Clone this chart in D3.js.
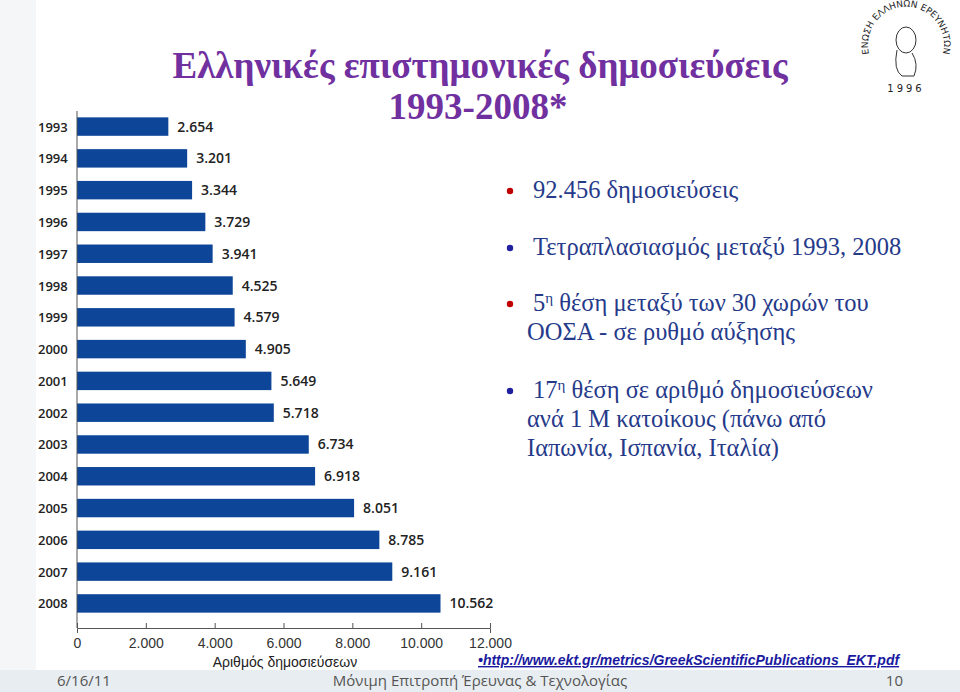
<!DOCTYPE html>
<html><head><meta charset="utf-8">
<script src="https://cdn.jsdelivr.net/npm/d3@7"></script>
<style>body{margin:0;background:#fff}svg{display:block}</style>
</head><body><svg id="c" width="960" height="692"></svg>
<script>
const years = ["1993","1994","1995","1996","1997","1998","1999","2000","2001","2002","2003","2004","2005","2006","2007","2008"];
const pubs = [2654,3201,3344,3729,3941,4525,4579,4905,5649,5718,6734,6918,8051,8785,9161,10562];
const xTicks = [0,2000,4000,6000,8000,10000,12000];
const bullets = [
  {c:"#c00000", lines:["92.456  δημοσιεύσεις"]},
  {c:"#1f1fa0", lines:["Τετραπλασιασμός μεταξύ 1993, 2008"]},
  {c:"#c00000", lines:["5η θέση μεταξύ των 30 χωρών του","ΟΟΣΑ - σε ρυθμό αύξησης"]},
  {c:"#1f1fa0", lines:["17η θέση σε αριθμό δημοσιεύσεων","ανά 1 Μ κατοίκους (πάνω από","Ιαπωνία, Ισπανία, Ιταλία)"]}
];
const fmt = v => d3.format(",")(v).replace(/,/g,".");
const svg = d3.select("#c");
svg.append("rect").attr("x",0).attr("y",0).attr("width",960).attr("height",692).attr("fill","#fff");
svg.append("rect").attr("x",0).attr("y",0).attr("width",36).attr("height",670).attr("fill","#f4f6f8");
svg.append("rect").attr("x",0).attr("y",670).attr("width",960).attr("height",22).attr("fill","#e8edf1");

const x = d3.scaleLinear().domain([0,12000]).range([77,490]);
const y = d3.scaleBand().domain(years).range([111,619]).paddingInner(0.42).paddingOuter(0.2);
const g = svg.append("g");
g.selectAll("rect.b").data(pubs).join("rect").attr("class","b")
  .attr("x",x(0)).attr("y",(d,i)=>y(years[i])).attr("width",d=>x(d)-x(0)).attr("height",y.bandwidth()).attr("fill","#0d4598");
g.selectAll("text.v").data(pubs).join("text").attr("class","v")
  .attr("x",d=>x(d)+9).attr("y",(d,i)=>y(years[i])+y.bandwidth()/2+5)
  .attr("font-family","Open Sans, Arial").attr("font-size",14).attr("font-weight",600).attr("fill","#222").text(fmt);
g.selectAll("text.y").data(years).join("text").attr("class","y")
  .attr("x",38).attr("y",d=>y(d)+y.bandwidth()/2+5)
  .attr("font-family","Open Sans, Arial").attr("font-size",13).attr("font-weight",600).attr("fill","#222").text(d=>d);
const ax = svg.append("g").attr("transform","translate(0,628)")
  .call(d3.axisBottom(x).tickValues(xTicks).tickSize(5).tickFormat(fmt));
ax.select(".domain").attr("stroke","#555");
ax.selectAll("line").attr("stroke","#555").attr("transform","translate(0,-5)");
ax.selectAll("text").attr("font-family","Liberation Sans, Arial").attr("font-size",14).attr("fill","#333").attr("dy","0.85em");
svg.append("line").attr("x1",77).attr("x2",77).attr("y1",111).attr("y2",628).attr("stroke","#555");
svg.append("text").attr("x",285).attr("y",667).attr("text-anchor","middle").attr("font-family","Liberation Sans, Arial").attr("font-size",14).attr("fill","#222").text("Αριθμός δημοσιεύσεων");

svg.append("text").attr("x",480).attr("y",78).attr("text-anchor","middle").attr("font-family","Liberation Serif").attr("font-size",37).attr("font-weight","bold").attr("fill","#7030a0").text("Ελληνικές επιστημονικές δημοσιεύσεις");
svg.append("text").attr("x",478).attr("y",119).attr("text-anchor","middle").attr("font-family","Liberation Serif").attr("font-size",37).attr("font-weight","bold").attr("fill","#7030a0").text("1993-2008*");

const starts=[198,255,311,398];
bullets.forEach((b,i)=>{
  svg.append("circle").attr("cx",510).attr("cy",starts[i]-7).attr("r",3.2).attr("fill",b.c);
  b.lines.forEach((l,j)=>{
    const t=svg.append("text").attr("x",j==0?533:527).attr("y",starts[i]+j*29).attr("font-family","Liberation Serif").attr("font-size",24.5).attr("fill","#263a8a");
    const m=l.match(/^(\d+)η (.*)$/);
    if(m){t.append("tspan").text(m[1]);t.append("tspan").attr("font-size",15).attr("dy",-8).text("η");t.append("tspan").attr("dy",8).text(" "+m[2]);}
    else t.text(l);
  });
});
svg.append("text").attr("x",478).attr("y",665).attr("font-family","Liberation Sans, Arial").attr("font-size",14).attr("font-weight","bold").attr("font-style","italic").attr("fill","#1a1aa0").attr("text-decoration","underline").text("•http://www.ekt.gr/metrics/GreekScientificPublications_EKT.pdf");

svg.append("text").attr("x",57).attr("y",686).attr("font-family","Open Sans").attr("font-size",15).attr("fill","#555").text("6/16/11");
svg.append("text").attr("x",480).attr("y",686).attr("text-anchor","middle").attr("font-family","Open Sans").attr("font-size",15).attr("fill","#555").text("Μόνιμη Επιτροπή Έρευνας & Τεχνολογίας");
svg.append("text").attr("x",903).attr("y",686).attr("text-anchor","end").attr("font-family","Open Sans").attr("font-size",15).attr("fill","#555").text("10");

// logo
const lg=svg.append("g").attr("transform","translate(906,46)");
lg.append("path").attr("id","arc").attr("d","M-30,22 A38,38 0 1,1 30,22").attr("fill","none");
lg.append("text").attr("font-family","DejaVu Sans").attr("font-size",9).attr("fill","#222").append("textPath").attr("href","#arc").attr("startOffset","50%").attr("text-anchor","middle").text("ΕΝΩΣΗ ΕΛΛΗΝΩΝ ΕΡΕΥΝΗΤΩΝ");
lg.append("ellipse").attr("cx",0).attr("cy",-6).attr("rx",10).attr("ry",13).attr("fill","none").attr("stroke","#333");
lg.append("path").attr("d","M-9,4 Q-13,24 -4,30 L8,30 Q13,18 6,7").attr("fill","none").attr("stroke","#333");
lg.append("text").attr("y",46).attr("text-anchor","middle").attr("font-family","DejaVu Sans").attr("font-size",10).attr("letter-spacing",3).attr("fill","#222").text("1996");
</script></body></html>
